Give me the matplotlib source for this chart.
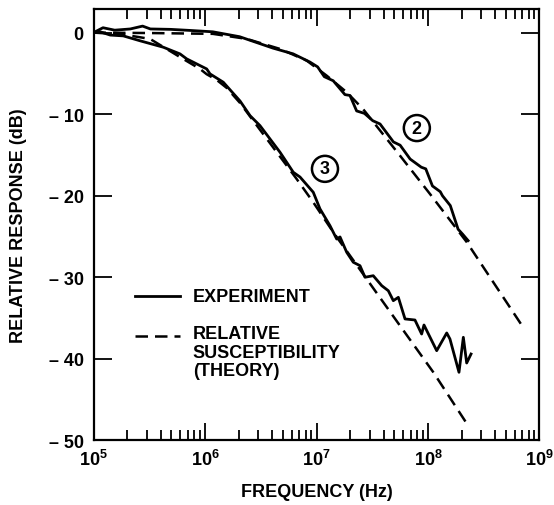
import numpy as np
import matplotlib
matplotlib.use("Agg")
import matplotlib.pyplot as plt

plt.rcParams['font.family'] = ['Liberation Sans', 'DejaVu Sans']
plt.rcParams['font.weight'] = 'bold'
plt.rcParams['mathtext.fontset'] = 'custom'
plt.rcParams['mathtext.rm'] = 'Liberation Sans:bold'
plt.rcParams['mathtext.default'] = 'rm'

# log10 of frequency (Hz) and response (dB)
exp2_logf = [5.0, 5.085, 5.19, 5.33, 5.44, 5.51, 5.69, 5.865, 6.07, 6.31, 6.61, 6.79,
             6.94, 7.01, 7.07, 7.15, 7.255, 7.30, 7.36, 7.43, 7.505, 7.57, 7.69, 7.75,
             7.84, 7.94, 7.98, 8.04, 8.11, 8.13, 8.20, 8.27, 8.31, 8.36]
exp2_db = [0.0, 0.6, 0.3, 0.45, 0.8, 0.45, 0.4, 0.27, 0.1, -0.5, -1.9, -2.6,
           -3.6, -4.2, -5.4, -5.9, -7.6, -7.7, -9.6, -9.9, -10.8, -11.2, -13.4, -13.8,
           -15.5, -16.5, -16.7, -18.8, -19.5, -20.0, -21.2, -24.1, -24.7, -25.5]

th2_logf = [5.0, 5.5, 6.07, 6.374, 6.673, 6.912, 7.091, 7.271, 7.417, 7.749, 8.018, 8.347, 8.857]
th2_db = [0.0, -0.05, -0.15, -0.77, -2.0, -3.43, -5.27, -7.31, -9.36, -15.08, -19.78, -25.67, -36.2]

exp3_logf = [5.0, 5.06, 5.15, 5.267, 5.417, 5.626, 5.776, 5.836, 5.926, 6.015, 6.045,
             6.164, 6.314, 6.404, 6.493, 6.673, 6.792, 6.852, 6.971, 7.031, 7.121, 7.181,
             7.211, 7.271, 7.33, 7.39, 7.435, 7.509, 7.585, 7.644, 7.689, 7.734, 7.794,
             7.883, 7.943, 7.964, 8.078, 8.168, 8.197, 8.278, 8.317, 8.347, 8.386]
exp3_db = [0.0, 0.1, -0.3, -0.4, -1.0, -1.79, -2.61, -3.22, -3.84, -4.45, -5.06,
           -6.08, -8.38, -10.18, -11.4, -14.67, -17.12, -17.7, -19.57, -21.6, -23.67, -25.3,
           -25.05, -26.93, -28.15, -28.57, -29.99, -29.8, -31.02, -31.64, -32.86, -32.45, -35.1,
           -35.23, -36.95, -35.84, -38.99, -36.82, -37.56, -41.64, -37.35, -40.5, -39.4]

th3_logf = [5.0, 5.25, 5.507, 5.776, 5.955, 6.015, 6.105, 6.195, 6.314, 6.822, 6.971,
            7.151, 7.45, 7.749, 8.048, 8.361]
th3_db = [0.0, -0.2, -0.77, -3.0, -4.45, -5.1, -5.8, -6.78, -8.62, -17.94, -20.8,
          -24.48, -30.2, -35.93, -41.64, -48.2]

yticks = [0, -10, -20, -30, -40, -50]
ytick_labels = ["0", "\u2013 10", "\u2013 20", "\u2013 30", "\u2013 40", "\u2013 50"]
xticks = [1e5, 1e6, 1e7, 1e8, 1e9]
xtick_labels = ["$10^{5}$", "$10^{6}$", "$10^{7}$", "$10^{8}$", "$10^{9}$"]

fig = plt.figure(figsize=(5.54, 5.06), dpi=100)
ax = fig.add_axes([0.1688, 0.1275, 0.805, 0.8528])

dash = (0, (5, 2.8))
ax.plot(np.power(10.0, th2_logf), th2_db, color="black", lw=1.8, linestyle=dash)
ax.plot(np.power(10.0, th3_logf), th3_db, color="black", lw=1.8, linestyle=dash)
ax.plot(np.power(10.0, exp2_logf), exp2_db, color="black", lw=2.0)
ax.plot(np.power(10.0, exp3_logf), exp3_db, color="black", lw=2.0)

ax.set_xscale("log")
ax.set_xlim(1e5, 1e9)
ax.set_ylim(-50, 2.9)
ax.set_xticks(xticks)
ax.set_xticklabels(xtick_labels, fontsize=13)
ax.set_yticks(yticks)
ax.set_yticklabels(ytick_labels, fontsize=13, fontweight="bold")
ax.xaxis.set_minor_locator(matplotlib.ticker.LogLocator(base=10, subs=np.arange(2, 10)))
ax.xaxis.set_minor_formatter(matplotlib.ticker.NullFormatter())
ax.tick_params(axis="both", which="both", direction="in", top=True, right=True, width=1.3)
ax.tick_params(axis="x", which="major", length=12, pad=6)
ax.tick_params(axis="x", which="minor", length=7)
ax.tick_params(axis="y", which="major", length=13, pad=7)
for s in ax.spines.values():
    s.set_linewidth(1.6)

ax.set_xlabel("FREQUENCY (Hz)", fontsize=13, fontweight="bold", labelpad=10)
ax.set_ylabel("RELATIVE RESPONSE (dB)", fontsize=13, fontweight="bold", labelpad=16)

# curve labels
circ = dict(boxstyle="circle,pad=0.25", fc="white", ec="black", lw=1.8)
ax.text(10**7.9, -11.7, "2", fontsize=13, fontweight="bold", ha="center", va="center", bbox=circ)
ax.text(10**7.076, -16.7, "3", fontsize=13, fontweight="bold", ha="center", va="center", bbox=circ)

# legend drawn by hand like the original
ax.plot([10**5.37, 10**5.78], [-32.3, -32.3], color="black", lw=2.0)
ax.plot([10**5.37, 10**5.78], [-37.2, -37.2], color="black", lw=1.8, linestyle=dash)
ax.text(10**5.89, -32.3, "EXPERIMENT", fontsize=13, fontweight="bold", va="center")
ax.text(10**5.89, -35.9, "RELATIVE\nSUSCEPTIBILITY\n(THEORY)", fontsize=13,
        fontweight="bold", va="top", linespacing=1.1)

fig.savefig("out.png", dpi=100)
